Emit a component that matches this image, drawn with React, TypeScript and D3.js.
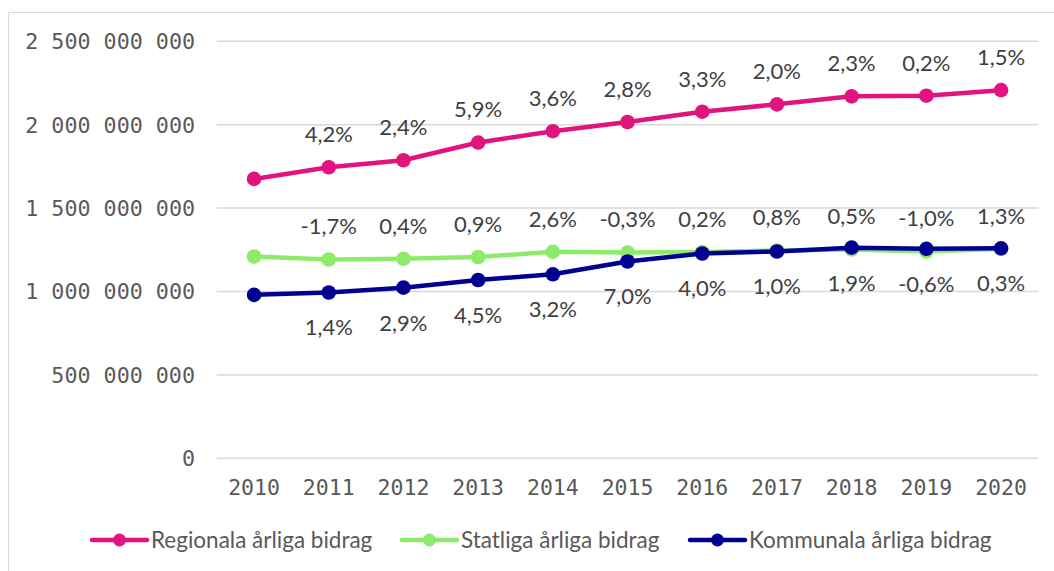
import { scaleLinear, scaleBand, line } from 'd3';

// Chart data
const YEARS = ['2010', '2011', '2012', '2013', '2014', '2015', '2016', '2017', '2018', '2019', '2020'];

const REGIONAL = [
    1675000000, 1745000000, 1787000000, 1893000000, 1961000000, 2016000000,
    2078000000, 2122000000, 2170000000, 2174000000, 2207000000,
];
const STATLIG = [
    1210000000, 1192000000, 1196000000, 1207000000, 1238000000, 1234000000,
    1237000000, 1246000000, 1252000000, 1240000000, 1256000000,
];
const KOMMUNAL = [
    980000000, 994000000, 1023000000, 1069000000, 1103000000, 1180000000,
    1228000000, 1240000000, 1263000000, 1256000000, 1259000000,
];

const REGIONAL_LABELS = ['', '4,2%', '2,4%', '5,9%', '3,6%', '2,8%', '3,3%', '2,0%', '2,3%', '0,2%', '1,5%'];
const STATLIG_LABELS = ['', '-1,7%', '0,4%', '0,9%', '2,6%', '-0,3%', '0,2%', '0,8%', '0,5%', '-1,0%', '1,3%'];
const KOMMUNAL_LABELS = ['', '1,4%', '2,9%', '4,5%', '3,2%', '7,0%', '4,0%', '1,0%', '1,9%', '-0,6%', '0,3%'];

const Y_TICKS = [0, 500000000, 1000000000, 1500000000, 2000000000, 2500000000];

const SERIES = [
    { name: 'Regionala årliga bidrag', values: REGIONAL, labels: REGIONAL_LABELS, color: '#E2127F', above: true },
    { name: 'Statliga årliga bidrag', values: STATLIG, labels: STATLIG_LABELS, color: '#8EEB6A', above: true },
    { name: 'Kommunala årliga bidrag', values: KOMMUNAL, labels: KOMMUNAL_LABELS, color: '#000091', above: false },
];

// Dimensions
const width = 1054;
const height = 571;
const plotLeft = 216.7;
const plotRight = 1038.4;
const plotTop = 41.3;
const plotBottom = 458.3;

const monoFont = '"DejaVu Sans Mono", monospace';
const labelFont = 'Lato, "Open Sans", sans-serif';
const textColor = '#595959';

// Legend layout (left edge of each symbol)
const LEGEND_X = [92, 402, 690];
const legendY = 540;

function formatTick(v: number) {
    return v.toLocaleString('en-US').replace(/,/g, ' ');
}

function App() {
    const x = scaleBand<string>().domain(YEARS).range([plotLeft, plotRight]);
    const y = scaleLinear().domain([0, 2500000000]).range([plotBottom, plotTop]);
    const cx = (d: string) => (x(d) ?? 0) + x.bandwidth() / 2;

    const path = line<number>()
        .x((_, i) => cx(YEARS[i]))
        .y((d) => y(d));

    return (
        <svg
            width={width}
            height={height}
            style={{ position: 'absolute', left: 0, top: 0, background: '#fff' }}
        >
            {/* Outer frame */}
            <rect x={8.5} y={12.5} width={width + 10} height={height + 10} fill="none" stroke="#d9d9d9" />

            {/* Grid + y labels */}
            {Y_TICKS.map((t) => (
                <g key={t}>
                    <line x1={plotLeft} x2={plotRight} y1={y(t)} y2={y(t)} stroke="#d9d9d9" strokeWidth={1.5} />
                    <text
                        x={195}
                        y={y(t)}
                        dy="0.36em"
                        textAnchor="end"
                        fontFamily={monoFont}
                        fontSize={21.7}
                        fill={textColor}
                    >
                        {formatTick(t)}
                    </text>
                </g>
            ))}

            {/* X labels */}
            {YEARS.map((d) => (
                <text
                    key={d}
                    x={cx(d)}
                    y={487}
                    dy="0.36em"
                    textAnchor="middle"
                    fontFamily={monoFont}
                    fontSize={21.5}
                    fill={textColor}
                >
                    {d}
                </text>
            ))}

            {/* Lines + markers */}
            {SERIES.map((s) => (
                <g key={s.name}>
                    <path d={path(s.values) ?? ''} fill="none" stroke={s.color} strokeWidth={4.5} strokeLinejoin="round" />
                    {s.values.map((v, i) => (
                        <circle key={i} cx={cx(YEARS[i])} cy={y(v)} r={7.3} fill={s.color} />
                    ))}
                </g>
            ))}

            {/* Percent labels */}
            {SERIES.map((s) =>
                s.labels.map((l, i) => (
                    <text
                        key={s.name + i}
                        x={cx(YEARS[i])}
                        y={y(s.values[i]) + (s.above ? -33 : 35)}
                        dy="0.36em"
                        textAnchor="middle"
                        fontFamily={labelFont}
                        fontSize={22}
                        fill="#404040"
                    >
                        {l}
                    </text>
                ))
            )}

            {/* Legend */}
            {SERIES.map((s, i) => (
                <g key={s.name} transform={`translate(${LEGEND_X[i]}, ${legendY})`}>
                    <line x1={0} x2={55} y1={0} y2={0} stroke={s.color} strokeWidth={4.5} strokeLinecap="round" />
                    <circle cx={27.5} cy={0} r={6.5} fill={s.color} />
                    <text x={59} y={0} dy="0.36em" fontFamily={labelFont} fontSize={22.5} fill={textColor}>
                        {s.name}
                    </text>
                </g>
            ))}
        </svg>
    );
}

export default App;
